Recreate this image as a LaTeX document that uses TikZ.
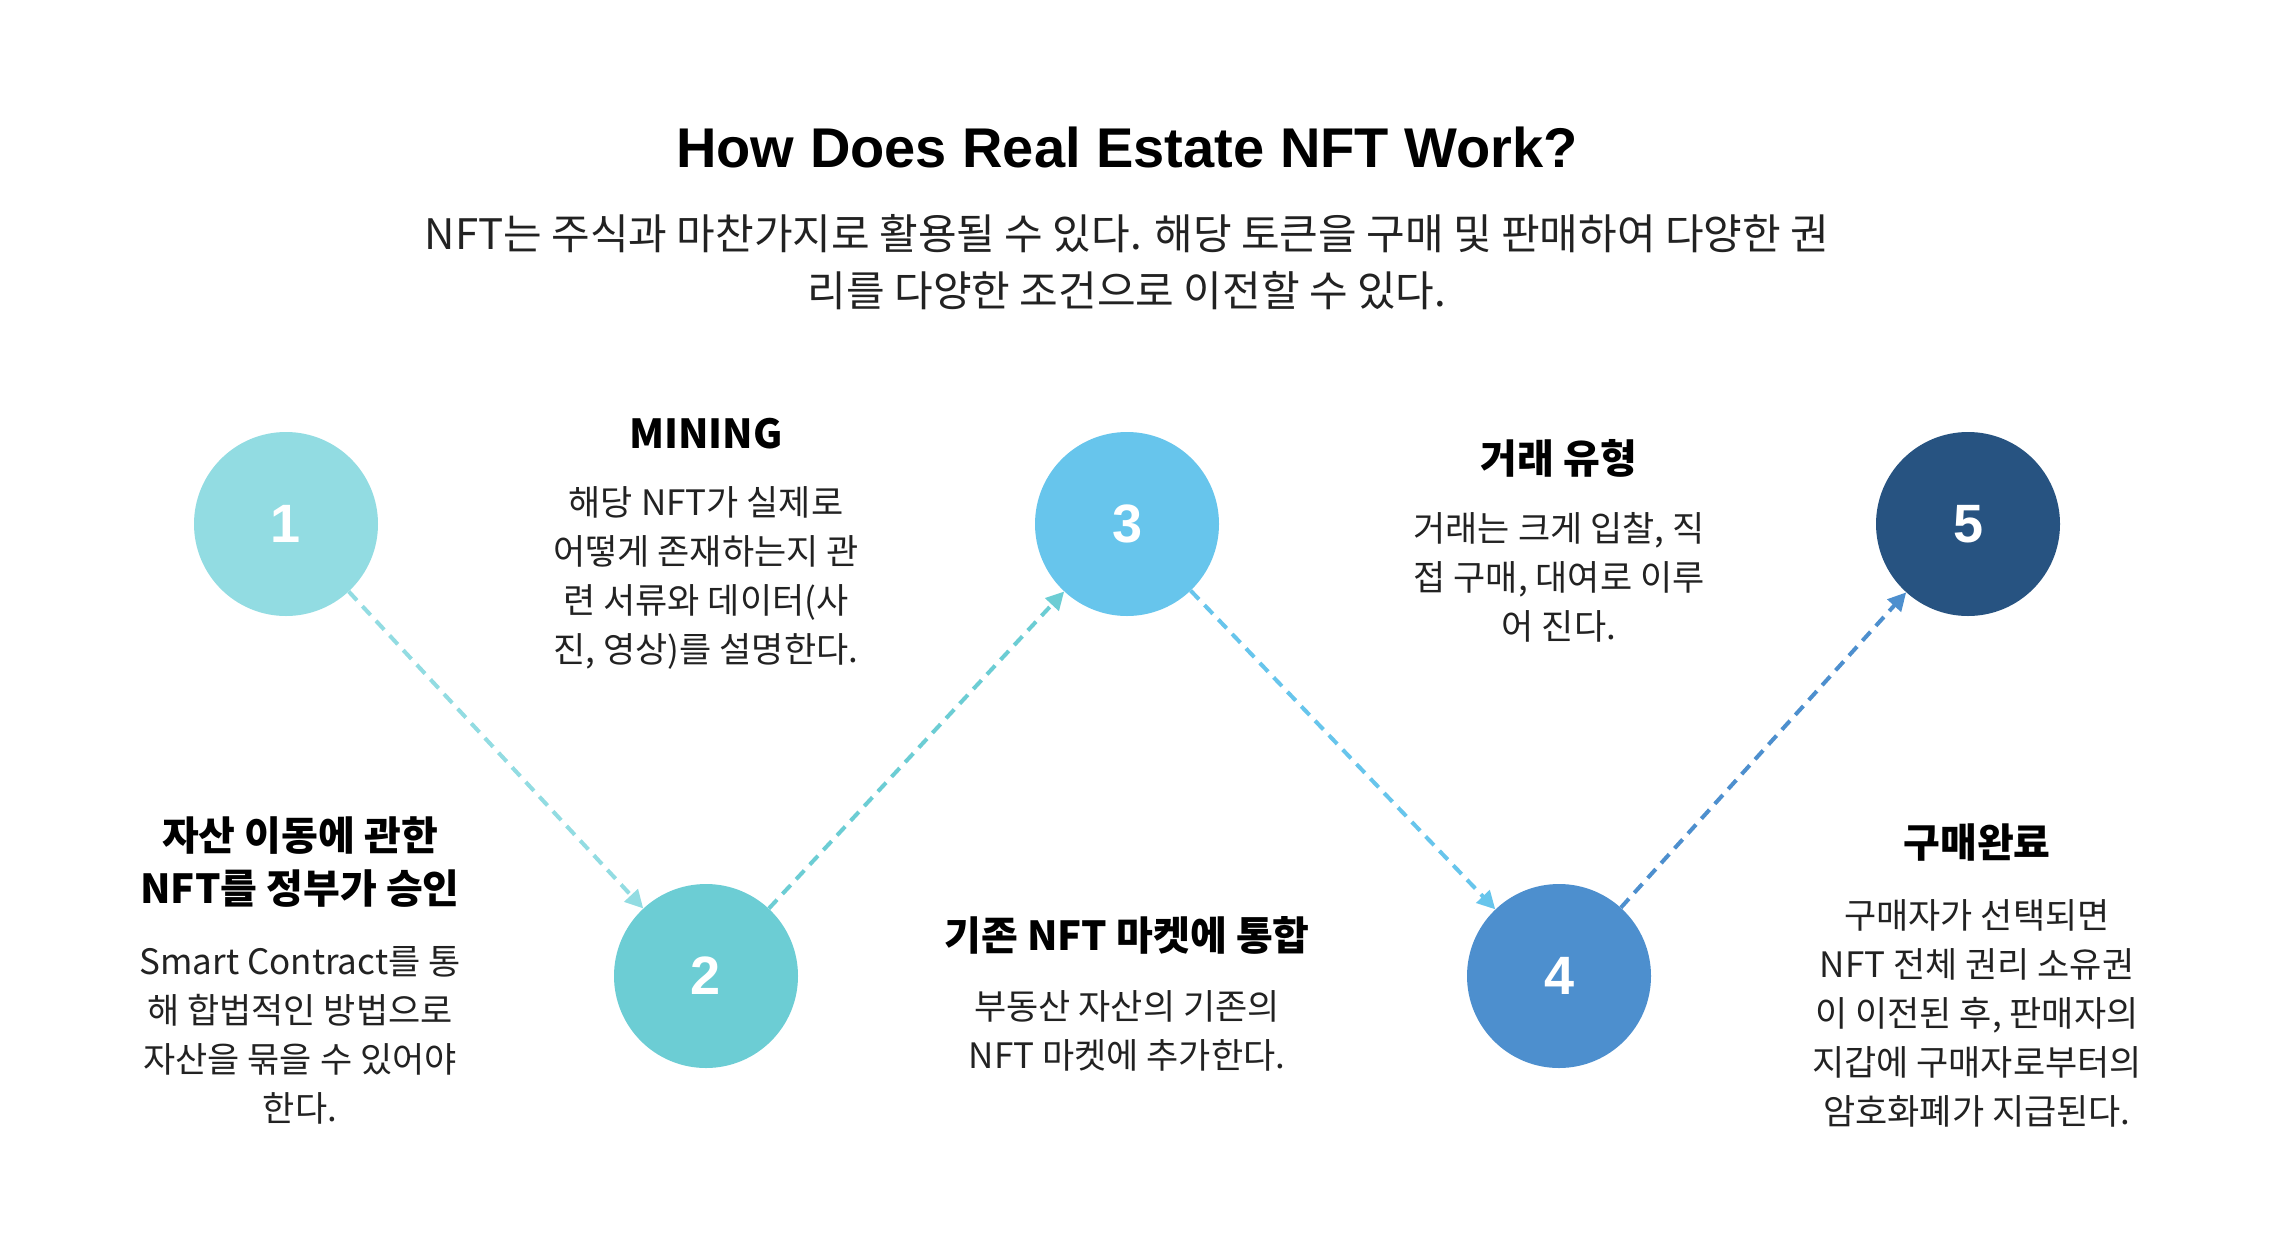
\documentclass[tikz,border=0pt]{standalone}
\usepackage{fontspec}
\setmainfont{Noto Sans CJK KR}
\newfontfamily\titlefont{Liberation Sans}
\usetikzlibrary{arrows.meta}
\definecolor{cA}{HTML}{92DCE2}
\definecolor{cB}{HTML}{6CCDD4}
\definecolor{cC}{HTML}{67C5EC}
\definecolor{cD}{HTML}{4D8FCE}
\definecolor{cE}{HTML}{275381}
\definecolor{txt}{HTML}{222222}
\begin{document}
\begin{tikzpicture}[x=1pt,y=-1pt,
  circ/.style={circle, minimum size=184pt, inner sep=0pt, text=white, font=\titlefont\bfseries\fontsize{54}{60}\selectfont},
  head/.style={align=center, inner sep=0pt, font=\bfseries\fontsize{40}{53}\selectfont, text=black},
  body/.style={align=center, inner sep=0pt, font=\fontsize{35}{49}\selectfont, text=txt},
  conn/.style={dash pattern=on 12pt off 8pt, line width=4pt, -{Triangle[length=18pt,width=18pt]}},
]
\useasboundingbox (0,0) rectangle (2274,1256);
\fill[white] (0,0) rectangle (2274,1256);

\node[inner sep=0pt, font=\titlefont\bfseries\fontsize{56}{60}\selectfont] (title) at (1127,147) {How Does Real Estate NFT Work?};
\node[inner sep=0pt, align=center, font=\fontsize{42}{57}\selectfont, text=txt] (sub) at (1127,262) {NFT는 주식과 마찬가지로 활용될 수 있다. 해당 토큰을 구매 및 판매하여 다양한 권\\리를 다양한 조건으로 이전할 수 있다.};

\node[circ, fill=cA] (n1) at (286,524) {1};
\node[circ, fill=cB] (n2) at (706,976) {2};
\node[circ, fill=cC] (n3) at (1127,524) {3};
\node[circ, fill=cD] (n4) at (1559,976) {4};
\node[circ, fill=cE] (n5) at (1968,524) {5};

\draw[conn, cA] (n1) -- (n2);
\draw[conn, cB] (n2) -- (n3);
\draw[conn, cC] (n3) -- (n4);
\draw[conn, cD] (n4) -- (n5);

\node[head] (h1) at (300,862) {자산 이동에 관한\\NFT를 정부가 승인};
\node[body] (b1) at (300,1035) {Smart Contract를 통\\해 합법적인 방법으로\\자산을 묶을 수 있어야\\한다.};

\node[head] (h2) at (706,434) {MINING};
\node[body] (b2) at (706,578) {해당 NFT가 실제로\\어떻게 존재하는지 관\\련 서류와 데이터(사\\진, 영상)를 설명한다.};

\node[head] (h3) at (1127,935) {기존 NFT 마켓에 통합};
\node[body] (b3) at (1127,1031) {부동산 자산의 기존의\\NFT 마켓에 추가한다.};

\node[head] (h4) at (1559,458) {거래 유형};
\node[body] (b4) at (1559,577) {거래는 크게 입찰, 직\\접 구매, 대여로 이루\\어 진다.};

\node[head] (h5) at (1977,843) {구매완료};
\node[body] (b5) at (1977,1013) {구매자가 선택되면\\NFT 전체 권리 소유권\\이 이전된 후, 판매자의\\지갑에 구매자로부터의\\암호화폐가 지급된다.};
\end{tikzpicture}
\end{document}
